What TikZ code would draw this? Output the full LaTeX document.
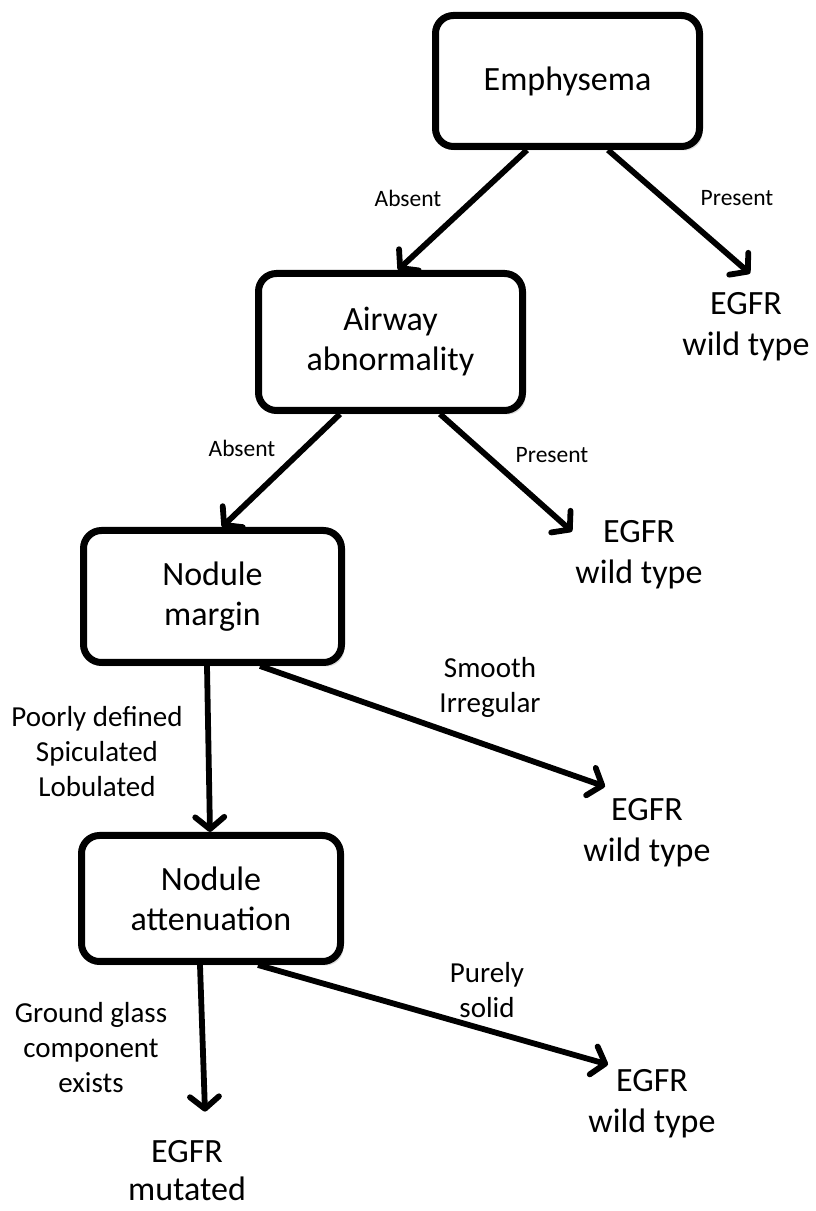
\documentclass[tikz,border=0pt]{standalone}
\usepackage{fontspec}
\setmainfont{Carlito}
\usetikzlibrary{arrows.meta,shadows,calc}
\begin{document}
\begin{tikzpicture}[x=1pt,y=1pt,
  decbox/.style={draw, line width=7pt, rounded corners=18pt, fill=white,
    align=center, font=\fontsize{34}{40}\selectfont,
    drop shadow={opacity=0.22, shadow xshift=3pt, shadow yshift=-4pt, fill=black!60}},
  leaf/.style={align=center, font=\fontsize{34}{41}\selectfont, inner sep=3pt},
  smalllbl/.style={font=\fontsize{23.5}{28}\selectfont, inner sep=0pt},
  biglbl/.style={align=center, font=\fontsize{29}{35}\selectfont, inner sep=0pt},
  conn/.style={line width=5.8pt, -{Straight Barb[length=12pt,width=29pt,round]}}]
\useasboundingbox (0,0) rectangle (816,1211);

% decision boxes
\node[decbox, minimum width=264pt, minimum height=131pt] (emph) at (567.5,1130) {Emphysema};
\node[decbox, minimum width=264pt, minimum height=137pt] (airway) at (390.5,869) {Airway\\abnormality};
\node[decbox, minimum width=258pt, minimum height=132pt] (margin) at (212.5,614.5) {Nodule\\margin};
\node[decbox, minimum width=259pt, minimum height=126pt] (atten) at (211,312.5) {Nodule\\attenuation};

% outcomes
\node[leaf] (egfr1) at (746,884) {EGFR\\wild type};
\node[leaf] (egfr2) at (639,656) {EGFR\\wild type};
\node[leaf] (egfr3) at (647,378) {EGFR\\wild type};
\node[leaf] (egfr4) at (652,107) {EGFR\\wild type};
\node[leaf, font=\fontsize{34}{38}\selectfont] (mut) at (187,40) {EGFR\\mutated};

% connectors
\draw[conn] ([xshift=-40.5pt]emph.south) -- ([xshift=7.5pt]airway.north);
\draw[conn] ([xshift=40.5pt]emph.south) -- ($(egfr1.north)+(4,16)$);
\draw[conn] ([xshift=-50.5pt]airway.south) -- ([xshift=9.5pt]margin.north);
\draw[conn] ([xshift=49.5pt]airway.south) -- ($(egfr2.north)+(-67,-14)$);
\draw[conn] ([xshift=-5.5pt]margin.south) -- ([xshift=-1pt]atten.north);
\draw[conn] ([xshift=47.5pt]margin.south) -- ($(egfr3.north)+(-42,9)$);
\draw[conn] ([xshift=-11pt]atten.south) -- ($(mut.north)+(18,26)$);
\draw[conn] ([xshift=47pt]atten.south) -- ($(egfr4.north)+(-44,2)$);

% labels
\node[smalllbl] (lab1) at (408,1013) {Absent};
\node[smalllbl] (lab2) at (737,1013) {Present};
\node[smalllbl] (lab3) at (242,763) {Absent};
\node[smalllbl] (lab4) at (552,756) {Present};
\node[biglbl] (lab5) at (97,459) {Poorly defined\\Spiculated\\Lobulated};
\node[biglbl] (lab6) at (490,524) {Smooth\\Irregular};
\node[biglbl] (lab7) at (91,163) {Ground glass\\component\\exists};
\node[biglbl] (lab8) at (487,221) {Purely\\solid};
\end{tikzpicture}
\end{document}
